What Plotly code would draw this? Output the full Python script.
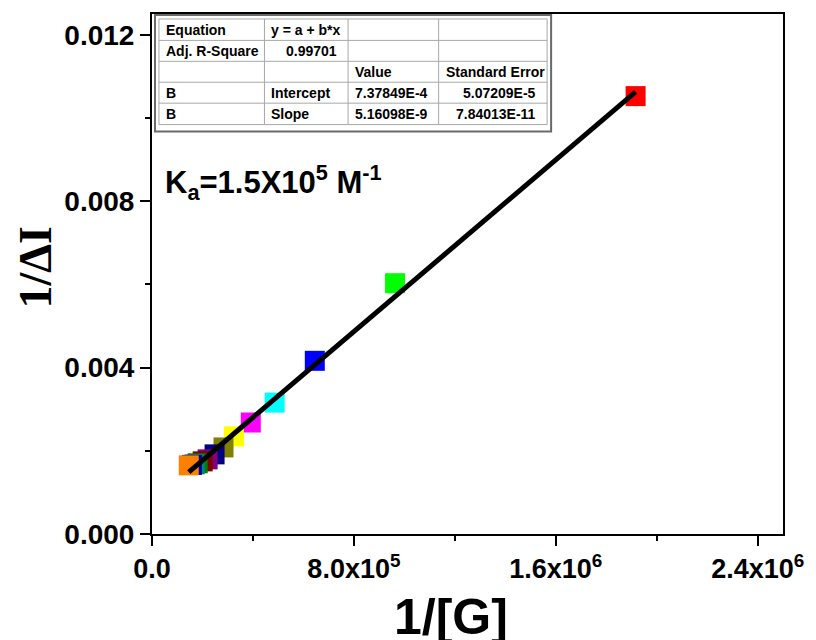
import plotly.graph_objects as go

# ---- data -------------------------------------------------------------
inv_G = [1.916e6, 9.63e5, 6.45e5, 4.86e5, 3.915e5, 3.246e5, 2.833e5,
         2.479e5, 2.204e5, 2.007e5, 1.81e5, 1.69e5, 1.58e5, 1.456e5]
inv_dI = [0.010526, 0.006029, 0.004163, 0.003158, 0.00268, 0.002344, 0.002081,
          0.001914, 0.001794, 0.001746, 0.00170, 0.001675, 0.00166, 0.00165]
point_colors = ["#FF0000", "#00FF00", "#0000FF", "#00FFFF", "#FF00FF", "#FFFF00",
                "#808000", "#000080", "#800080", "#800000", "#008000", "#008080",
                "#0000A0", "#FF8000"]

# linear fit results
fit_intercept = 7.37849e-4
fit_intercept_err = 5.07209e-5
fit_slope = 5.16098e-9
fit_slope_err = 7.84013e-11
adj_r2 = 0.99701

x_tickvals = [0, 8.0e5, 1.6e6, 2.4e6]
x_ticktext = ["0.0", "8.0x10<sup>5</sup>", "1.6x10<sup>6</sup>", "2.4x10<sup>6</sup>"]
y_tickvals = [0.0, 0.004, 0.008, 0.012]
y_ticktext = ["0.000", "0.004", "0.008", "0.012"]


def sci(v):
    mant, exp = f"{v:.5E}".split("E")
    return f"{mant}E{int(exp)}"


table_rows = [
    ["Equation", "y = a + b*x", "", ""],
    ["Adj. R-Square", f"{adj_r2:.5f}", "", ""],
    ["", "", "Value", "Standard Error"],
    ["B", "Intercept", sci(fit_intercept), sci(fit_intercept_err)],
    ["B", "Slope", sci(fit_slope), sci(fit_slope_err)],
]

# ---- figure -----------------------------------------------------------
W, H = 816, 640
L, R, T, B = 152, 786, 12, 534


def px(x):
    return (x - L) / (R - L)


def py(y):
    return (B - y) / (B - T)


fig = go.Figure()

fig.add_trace(go.Scatter(
    x=inv_G, y=inv_dI, mode="markers",
    marker=dict(symbol="square", size=20, color=point_colors, line=dict(width=0)),
    showlegend=False, hoverinfo="x+y",
))

x_fit = [min(inv_G), max(inv_G)]
y_fit = [fit_intercept + fit_slope * v for v in x_fit]
fig.add_trace(go.Scatter(
    x=x_fit, y=y_fit, mode="lines",
    line=dict(color="black", width=5),
    showlegend=False, hoverinfo="skip",
))

sans = "Arial, Liberation Sans, sans-serif"

fig.update_layout(
    width=W, height=H,
    margin=dict(l=L, r=W - R, t=T, b=H - B, pad=0),
    paper_bgcolor="white", plot_bgcolor="white",
    xaxis=dict(
        range=[0, 2.5e6], showgrid=False, zeroline=False,
        showline=True, linecolor="black", linewidth=2, mirror=True,
        ticks="outside", ticklen=10, tickwidth=2, tickcolor="black",
        tickvals=x_tickvals, ticktext=x_ticktext,
        tickfont=dict(family=sans, size=27, color="black", weight="bold"),
        minor=dict(tickvals=[4e5, 1.2e6, 2.0e6], ticks="outside", ticklen=5,
                   tickwidth=2, tickcolor="black"),
    ),
    yaxis=dict(
        range=[0, 0.0125], showgrid=False, zeroline=False,
        showline=True, linecolor="black", linewidth=2, mirror=True,
        ticks="outside", ticklen=10, tickwidth=2, tickcolor="black",
        tickvals=y_tickvals, ticktext=y_ticktext,
        tickfont=dict(family=sans, size=28, color="black", weight="bold"),
        minor=dict(tickvals=[0.002, 0.006, 0.010], ticks="outside", ticklen=5,
                   tickwidth=2, tickcolor="black"),
    ),
)

annotations = []
shapes = []

# axis titles
annotations.append(dict(
    text="<b>1/[G]</b>", xref="paper", yref="paper",
    x=px(452), y=py(617), xanchor="center", yanchor="middle", showarrow=False,
    font=dict(family=sans, size=50, color="black"),
))
annotations.append(dict(
    text="<b>1/ΔI</b>", xref="paper", yref="paper", textangle=-90,
    x=px(34), y=py(266), xanchor="center", yanchor="middle", showarrow=False,
    font=dict(family="Times New Roman, Liberation Serif, serif", size=46, color="black"),
))

# binding constant label
annotations.append(dict(
    text="<b>K<sub>a</sub>=1.5X10<sup>5</sup> M<sup>-1</sup></b>",
    xref="paper", yref="paper", x=px(163), y=py(181),
    xanchor="left", yanchor="middle", showarrow=False,
    font=dict(family=sans, size=31, color="black"),
))

# fit results table
col_edges = [159, 265, 349, 440, 549]
row_edges = [17, 38.5, 59.5, 80.5, 101.5, 123]
shapes.append(dict(type="rect", xref="paper", yref="paper",
                   x0=px(155), x1=px(553), y0=py(130), y1=py(13),
                   line=dict(color="#6a6a6a", width=2), fillcolor="white", layer="above"))
for xe in col_edges:
    shapes.append(dict(type="line", xref="paper", yref="paper",
                       x0=px(xe), x1=px(xe), y0=py(row_edges[0]), y1=py(row_edges[-1]),
                       line=dict(color="#a8a8a8", width=1), layer="above"))
for ye in row_edges:
    shapes.append(dict(type="line", xref="paper", yref="paper",
                       x0=px(col_edges[0]), x1=px(col_edges[-1]), y0=py(ye), y1=py(ye),
                       line=dict(color="#a8a8a8", width=1), layer="above"))

numeric_cells = {(1, 1), (3, 2), (3, 3), (4, 2), (4, 3)}
for r, row in enumerate(table_rows):
    yc = (row_edges[r] + row_edges[r + 1]) / 2
    for c, txt in enumerate(row):
        if not txt:
            continue
        if (r, c) in numeric_cells:
            xa, xpos = "right", col_edges[c + 1] - 9
        else:
            xa, xpos = "left", col_edges[c] + 5
        annotations.append(dict(
            text=f"<b>{txt}</b>", xref="paper", yref="paper",
            x=px(xpos), y=py(yc), xanchor=xa, yanchor="middle", showarrow=False,
            font=dict(family=sans, size=14, color="black"),
        ))

fig.update_layout(annotations=annotations, shapes=shapes)

fig.write_html("out.html")
